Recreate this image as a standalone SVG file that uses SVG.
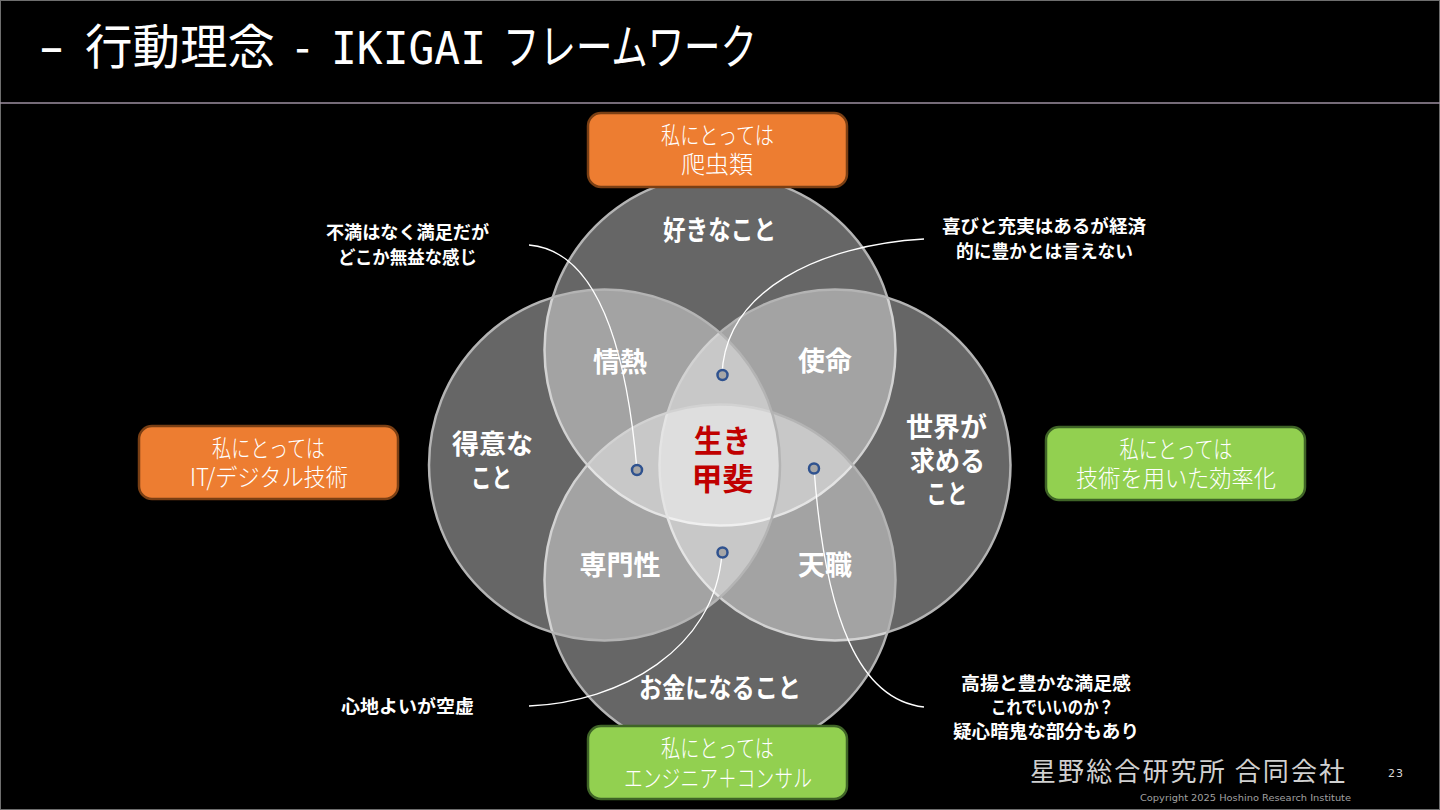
<svg xmlns="http://www.w3.org/2000/svg" width="1440" height="810" viewBox="0 0 1440 810">
<style>
text{font-family:"Noto Sans CJK JP","Liberation Sans",sans-serif;text-anchor:middle}
.c{fill:#fff;fill-opacity:.4;stroke:#b4b4b4;stroke-width:2.5}
.b{font-size:27px;font-weight:700;fill:#fff}
.n{font-size:18px;font-weight:700;fill:#fff}
.t{font-size:24px;font-weight:300;fill:#fff}
.o{fill:#ed7d31;stroke:#7a3f14;stroke-width:2.5}
.g{fill:#92d050;stroke:#3f6427;stroke-width:2.5}
.l{fill:none;stroke:#fff;stroke-width:1.3}
.d{fill:#a6a6a6;stroke:#2f528f;stroke-width:2.5}
</style>
<rect width="1440" height="810" fill="#000"/>
<rect x=".5" y=".5" width="1439" height="809" fill="none" stroke="#6e6e6e"/>
<g id="header">
<text y="64" style="text-anchor:start;font-size:48px;font-weight:300" fill="#fff"><tspan x="40" textLength="23" lengthAdjust="spacingAndGlyphs" font-weight="500">–</tspan><tspan x="85" textLength="190" lengthAdjust="spacingAndGlyphs" font-weight="400">行動理念</tspan><tspan x="295" textLength="15" lengthAdjust="spacingAndGlyphs" font-weight="400">-</tspan><tspan x="331" textLength="155" lengthAdjust="spacingAndGlyphs" style="font-family:'DejaVu Sans Mono',monospace;font-size:44px">IKIGAI</tspan><tspan x="503" textLength="254" lengthAdjust="spacingAndGlyphs" font-weight="400">フレームワーク</tspan></text>
<line x1="0" y1="103" x2="1440" y2="103" stroke="#9c8fa0" stroke-width="1.5"/>
</g>
<g id="venn">
<circle id="circle-top" class="c" cx="720" cy="350" r="175.5"/>
<circle id="circle-right" class="c" cx="835" cy="465" r="175.5"/>
<circle id="circle-bottom" class="c" cx="720" cy="580" r="175.5"/>
<circle id="circle-left" class="c" cx="604.5" cy="465" r="175.5"/>
</g>
<g id="connectors">
<path class="l" d="M529 245C590 250 625 330 637 470"/>
<path class="l" d="M924 239C820 245 725 290 722 375"/>
<path class="l" d="M529 706C620 702 715 650 722 553"/>
<path class="l" d="M924 707C860 700 825 620 814 468"/>
<circle class="d" cx="637" cy="470" r="5"/>
<circle class="d" cx="722.500" cy="375" r="5"/>
<circle class="d" cx="814" cy="468.500" r="5"/>
<circle class="d" cx="722.500" cy="552.500" r="5"/>
</g>
<g id="venn-labels">
<text class="b" x="719.500" y="240" textLength="113" lengthAdjust="spacingAndGlyphs">好きなこと</text>
<text class="b" x="620" y="372">情熱</text>
<text class="b" x="825" y="371">使命</text>
<text class="b"><tspan x="492.500" y="454" textLength="81" lengthAdjust="spacingAndGlyphs">得意な</tspan><tspan x="491.500" y="488" textLength="41" lengthAdjust="spacingAndGlyphs">こと</tspan></text>
<text class="b"><tspan x="946.500" y="437" textLength="81" lengthAdjust="spacingAndGlyphs">世界が</tspan><tspan x="947.500" y="471" textLength="75" lengthAdjust="spacingAndGlyphs">求める</tspan><tspan x="947" y="504" textLength="41" lengthAdjust="spacingAndGlyphs">こと</tspan></text>
<text class="b" x="620" y="575">専門性</text>
<text class="b" x="825" y="575">天職</text>
<text class="b" x="720" y="698" textLength="162" lengthAdjust="spacingAndGlyphs">お金になること</text>
<text style="font-size:31px;font-weight:700" fill="#c00000"><tspan x="722.500" y="452" textLength="57" lengthAdjust="spacingAndGlyphs">生き</tspan><tspan x="722.500" y="490">甲斐</tspan></text>
</g>
<g id="notes">
<text class="n"><tspan x="407.500" y="239" textLength="163" lengthAdjust="spacingAndGlyphs">不満はなく満足だが</tspan><tspan x="407.500" y="264" textLength="139" lengthAdjust="spacingAndGlyphs">どこか無益な感じ</tspan></text>
<text class="n"><tspan x="1044" y="233" textLength="204" lengthAdjust="spacingAndGlyphs">喜びと充実はあるが経済</tspan><tspan x="1044.500" y="258" textLength="177" lengthAdjust="spacingAndGlyphs">的に豊かとは言えない</tspan></text>
<text class="n" x="407.500" y="713" textLength="133" lengthAdjust="spacingAndGlyphs">心地よいが空虚</text>
<text class="n"><tspan x="1046" y="690" textLength="170" lengthAdjust="spacingAndGlyphs">高揚と豊かな満足感</tspan><tspan x="1052.500" y="714" textLength="123" lengthAdjust="spacingAndGlyphs">これでいいのか？</tspan><tspan x="1046" y="738" textLength="186" lengthAdjust="spacingAndGlyphs">疑心暗鬼な部分もあり</tspan></text>
</g>
<g id="box-top"><rect class="o" x="588" y="113" width="259" height="74" rx="13"/><text class="t"><tspan x="717.500" y="144" textLength="113" lengthAdjust="spacingAndGlyphs">私にとっては</tspan><tspan x="717" y="173">爬虫類</tspan></text></g>
<g id="box-left"><rect class="o" x="139" y="426" width="259" height="73" rx="13"/><text class="t"><tspan x="268.500" y="457" textLength="113" lengthAdjust="spacingAndGlyphs">私にとっては</tspan><tspan x="269" y="486" textLength="158" lengthAdjust="spacingAndGlyphs">IT/デジタル技術</tspan></text></g>
<g id="box-right"><rect class="g" x="1046" y="427" width="259" height="73" rx="13"/><text class="t"><tspan x="1176" y="458" textLength="113" lengthAdjust="spacingAndGlyphs">私にとっては</tspan><tspan x="1176" y="487" textLength="200" lengthAdjust="spacingAndGlyphs">技術を用いた効率化</tspan></text></g>
<g id="box-bottom"><rect class="g" x="588" y="726" width="259" height="73" rx="13"/><text class="t"><tspan x="717.500" y="757" textLength="113" lengthAdjust="spacingAndGlyphs">私にとっては</tspan><tspan x="718" y="787" textLength="188" lengthAdjust="spacingAndGlyphs">エンジニア＋コンサル</tspan></text></g>
<g id="footer">
<text x="1187.500" y="781" textLength="315" style="font-size:26px;font-weight:400" fill="#d0d0d0">星野総合研究所 合同会社</text>
<text x="1396" y="777" style="font-family:'DejaVu Sans',sans-serif;font-size:11px;letter-spacing:1px" fill="#d9d9d9">23</text>
<text x="1245.500" y="801" textLength="211" lengthAdjust="spacingAndGlyphs" style="font-family:'DejaVu Sans',sans-serif;font-size:9.500px" fill="#a0a0a0">Copyright 2025 Hoshino Research Institute</text>
</g>
</svg>
